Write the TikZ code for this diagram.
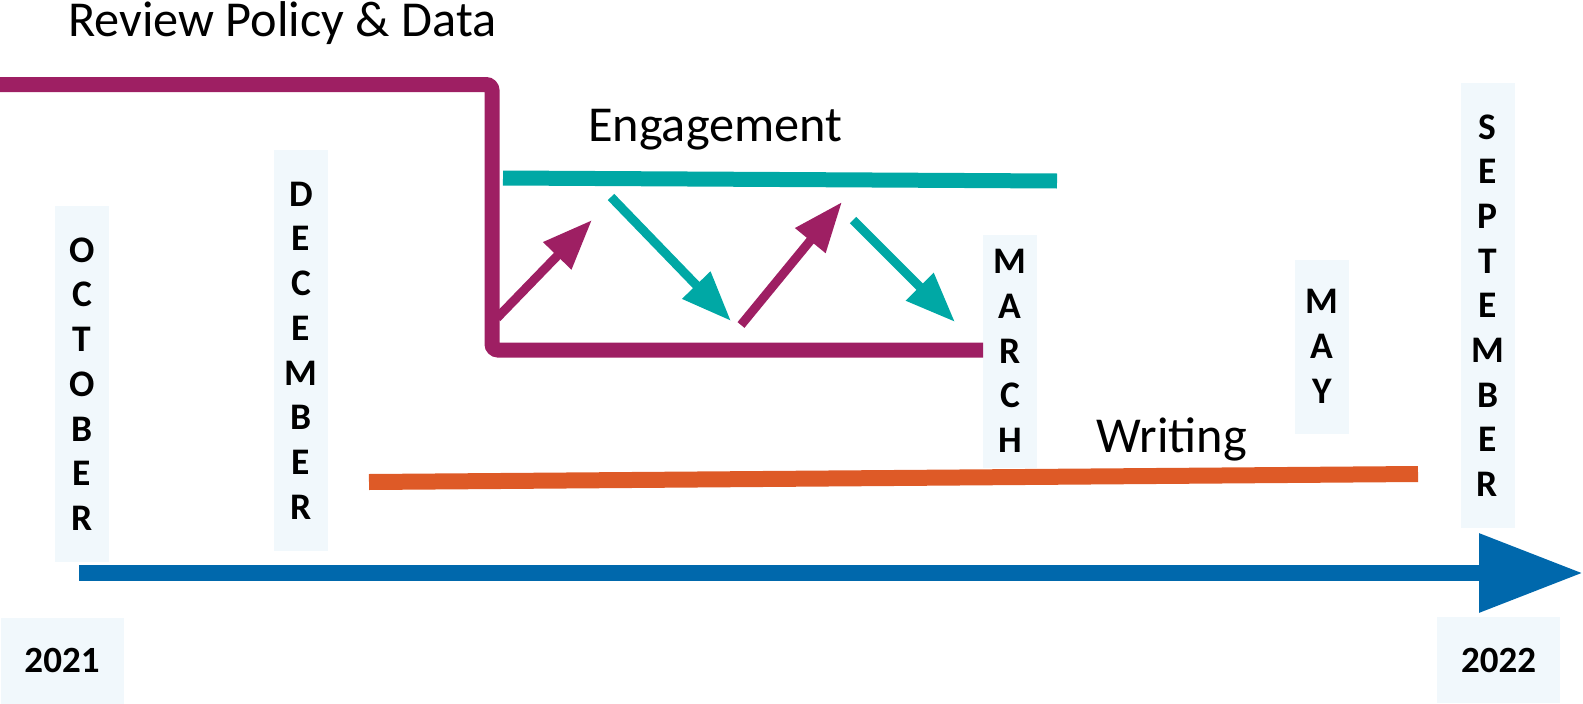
\documentclass[tikz,border=0pt]{standalone}
\usepackage{fontspec}
\setmainfont{Carlito}
\usetikzlibrary{arrows.meta}
\definecolor{cpurple}{HTML}{9E1F63}
\definecolor{cteal}{HTML}{00A8A5}
\definecolor{corange}{HTML}{DE5A27}
\definecolor{cblue}{HTML}{0068AC}
\definecolor{cbox}{HTML}{F1F8FC}
\tikzset{
  phase/.style={anchor=base west, inner sep=0pt, font=\fontsize{50.3}{60}\selectfont},
  monthbox/.style={fill=cbox, inner sep=0pt, minimum width=54pt, align=center,
    font=\bfseries\fontsize{37.5}{44.7}\selectfont},
  yearbox/.style={fill=cbox, inner sep=0pt, minimum width=123pt, minimum height=86pt,
    font=\bfseries\fontsize{37}{43}\selectfont},
  bar/.style={line width=15pt},
  smallarrow/.style={line width=9pt, -{Triangle[length=50pt,width=37pt]}},
}
\begin{document}
\begin{tikzpicture}[x=1pt,y=-1pt]
\useasboundingbox (0,0) rectangle (1583,704);
% month boxes
\node[monthbox, minimum height=356pt] (oct) at (82,384) {O\\C\\T\\O\\B\\E\\R};
\node[monthbox, minimum height=401pt] (dec) at (301,350.5) {D\\E\\C\\E\\M\\B\\E\\R};
\node[monthbox, minimum height=233pt] (mar) at (1010,351) {M\\A\\R\\C\\H};
\node[monthbox, minimum height=174pt] (may) at (1322,346.5) {M\\A\\Y};
\node[monthbox, minimum height=445pt] (sep) at (1487.5,305.5) {S\\E\\P\\T\\E\\M\\B\\E\\R};
% year boxes
\node[yearbox] (y21) at (62,660.5) {2021};
\node[yearbox] (y22) at (1498.5,660) {2022};
% phase labels
\node[phase] (review) at (68,36) {Review Policy \& Data};
\node[phase] (engage) at (588,141) {Engagement};
\node[phase] (writing) at (1096,452) {Writing};
% coordinates
\coordinate (rpL) at (0,84.5);
\coordinate (rpC1) at (492,84.5);
\coordinate (rpC2) at (492,350);
\coordinate (rpR) at (983,350);
\coordinate (enL) at (503,178);
\coordinate (enR) at (1057,181);
\coordinate (wrL) at (369,482);
\coordinate (wrR) at (1418,474);
\coordinate (tlL) at (79,573);
\coordinate (tlR) at (1583,573);
\coordinate (a1s) at (497,318);
\coordinate (a1e) at (592,220);
\coordinate (a2s) at (611,197);
\coordinate (a2e) at (731,321);
\coordinate (a3s) at (741,325);
\coordinate (a3e) at (842,202);
\coordinate (a4s) at (853,220);
\coordinate (a4e) at (955,322);
% review policy & data
\draw[bar, cpurple, rounded corners=6pt] (rpL) -- (rpC1) -- (rpC2) -- (rpR);
% engagement
\draw[bar, cteal] (enL) -- (enR);
% writing
\draw[bar, corange, line width=16pt] (wrL) -- (wrR);
% zig-zag arrows
\draw[smallarrow, cpurple] (a1s) -- (a1e);
\draw[smallarrow, cteal] (a2s) -- (a2e);
\draw[smallarrow, cpurple] (a3s) -- (a3e);
\draw[smallarrow, cteal] (a4s) -- (a4e);
% timeline
\draw[cblue, line width=16pt, -{Triangle[length=104pt,width=75pt]}] (tlL) -- (tlR);
\end{tikzpicture}
\end{document}
